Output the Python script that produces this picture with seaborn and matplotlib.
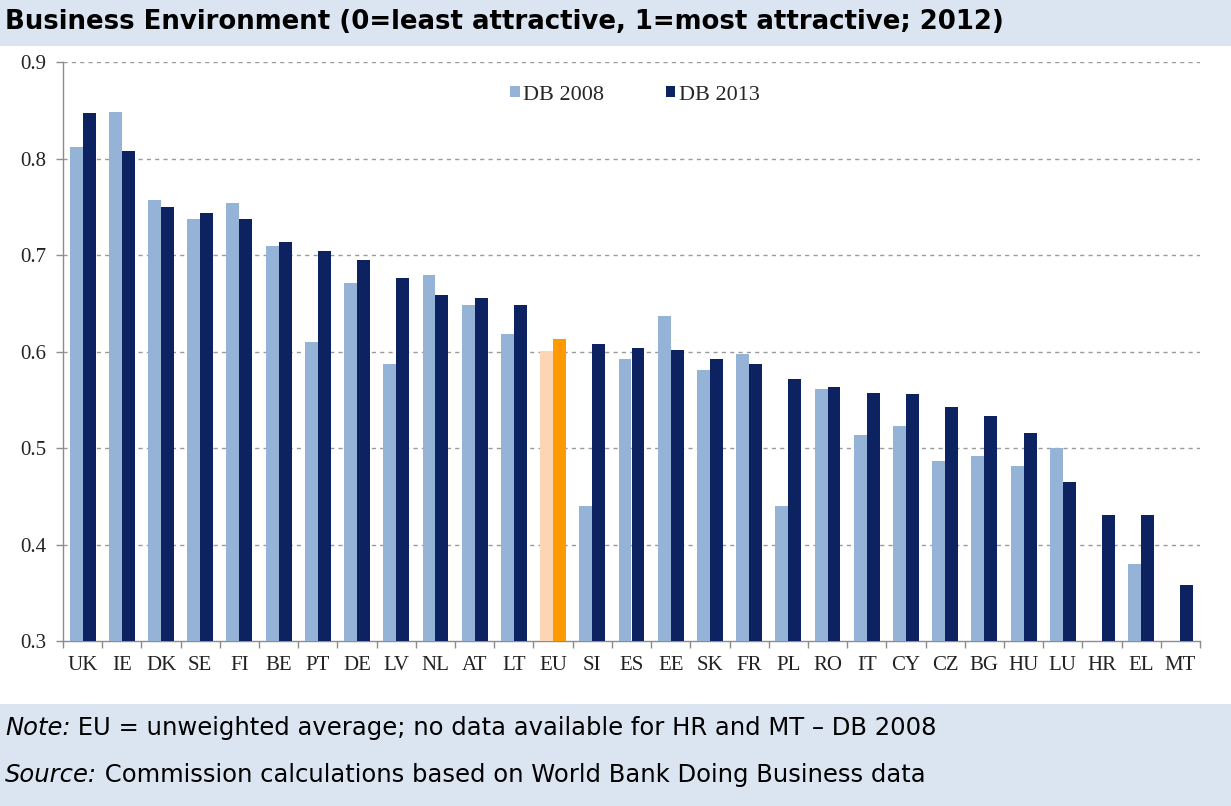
import numpy as np
import pandas as pd
import matplotlib
matplotlib.use("Agg")
import matplotlib.pyplot as plt
from matplotlib.patches import Rectangle
import seaborn as sns

countries = ["UK", "IE", "DK", "SE", "FI", "BE", "PT", "DE", "LV", "NL", "AT", "LT",
             "EU", "SI", "ES", "EE", "SK", "FR", "PL", "RO", "IT", "CY", "CZ", "BG",
             "HU", "LU", "HR", "EL", "MT"]
db2008 = [0.812, 0.848, 0.757, 0.737, 0.754, 0.709, 0.610, 0.671, 0.587, 0.679, 0.648, 0.618,
          0.601, 0.440, 0.592, 0.637, 0.581, 0.597, 0.440, 0.561, 0.513, 0.523, 0.487, 0.492,
          0.481, 0.500, np.nan, 0.380, np.nan]
db2013 = [0.847, 0.808, 0.750, 0.744, 0.737, 0.713, 0.704, 0.695, 0.676, 0.659, 0.655, 0.648,
          0.613, 0.608, 0.604, 0.602, 0.592, 0.587, 0.572, 0.563, 0.557, 0.556, 0.543, 0.533,
          0.516, 0.465, 0.431, 0.431, 0.358]
series = ["DB 2008", "DB 2013"]
yticks = [0.3, 0.4, 0.5, 0.6, 0.7, 0.8, 0.9]

title = "Business Environment (0=least attractive, 1=most attractive; 2012)"
note_label, note_text = "Note:", " EU = unweighted average; no data available for HR and MT \u2013 DB 2008"
source_label, source_text = "Source:", " Commission calculations based on World Bank Doing Business data"

df = pd.DataFrame({
    "country": countries * 2,
    "series": [series[0]] * len(countries) + [series[1]] * len(countries),
    "value": db2008 + db2013,
})

light_blue = "#95b3d7"
navy = "#0c2261"
eu_light = "#fcd5b4"
eu_dark = "#ff9900"
band = "#dbe5f1"
axis_grey = "#8c8c8c"

sns.set_theme(style="white")
plt.rcParams["font.family"] = ["DejaVu Sans"]
serif = "Liberation Serif"

fig = plt.figure(figsize=(12.31, 8.06), dpi=100)
fig.patch.set_facecolor("white")

# header and footer bands
fig.add_artist(Rectangle((0, 1 - 46 / 806), 1, 46 / 806, transform=fig.transFigure,
                         facecolor=band, edgecolor="none", zorder=0))
fig.add_artist(Rectangle((0, 0), 1, 102 / 806, transform=fig.transFigure,
                         facecolor=band, edgecolor="none", zorder=0))

ax = fig.add_axes([63 / 1231, 1 - 641 / 806, (1200 - 63) / 1231, (641 - 62) / 806])

sns.barplot(data=df, x="country", y="value", hue="series", order=countries,
            hue_order=series, palette=[light_blue, navy], width=0.66,
            saturation=1, ax=ax, zorder=3, legend=True,
            edgecolor="none", linewidth=0)

# highlight the EU average pair
eu_idx = countries.index("EU")
for p in ax.patches:
    cx = p.get_x() + p.get_width() / 2
    if abs(cx - eu_idx) < 0.5:
        p.set_facecolor(eu_light if cx < eu_idx else eu_dark)

ax.set_ylim(0.3, 0.9)
ax.set_xlim(-0.5, len(countries) - 0.5)
ax.set_yticks(yticks)
ax.set_yticklabels([f"{v:.1f}" for v in yticks], fontfamily=serif, fontsize=15, color="#222222")
ax.set_xticks(range(len(countries)))
ax.set_xticklabels(countries, fontfamily=serif, fontsize=15, color="#222222")
ax.set_xticks(np.arange(-0.5, len(countries), 1.0), minor=True)
ax.tick_params(axis="x", which="major", length=0, pad=11)
ax.tick_params(axis="x", which="minor", length=5, width=1, color=axis_grey, direction="out", bottom=True)
ax.tick_params(axis="y", length=5, width=1, color=axis_grey, direction="out", left=True, pad=7)
ax.set_xlabel("")
ax.set_ylabel("")

for v in yticks[1:]:
    ax.axhline(v, color="#9a9a9a", lw=1, ls=(0, (3, 3)), zorder=1)

for side in ["top", "right"]:
    ax.spines[side].set_visible(False)
for side in ["left", "bottom"]:
    ax.spines[side].set_color(axis_grey)
    ax.spines[side].set_linewidth(1)

leg = ax.legend(loc="center", bbox_to_anchor=(0.503, 0.943), ncol=2, frameon=False,
                prop={"family": serif, "size": 16}, handlelength=0.42, handleheight=0.42,
                handletextpad=0.15, columnspacing=2.8)

fig.text(5 / 1231, 1 - 22 / 806, title, fontsize=18.7, fontweight="bold",
         va="center", ha="left", color="black")

def labelled_line(y_px, label, text):
    t = fig.text(5 / 1231, 1 - y_px / 806, label, fontsize=17.5, style="italic",
                 va="baseline", ha="left", color="black")
    fig.canvas.draw()
    bb = t.get_window_extent()
    fig.text(bb.x1 / fig.bbox.width, 1 - y_px / 806, text, fontsize=17.5,
             va="baseline", ha="left", color="black")

labelled_line(735, note_label, note_text)
labelled_line(782, source_label, source_text)

fig.savefig("out.png", dpi=100, facecolor="white")
